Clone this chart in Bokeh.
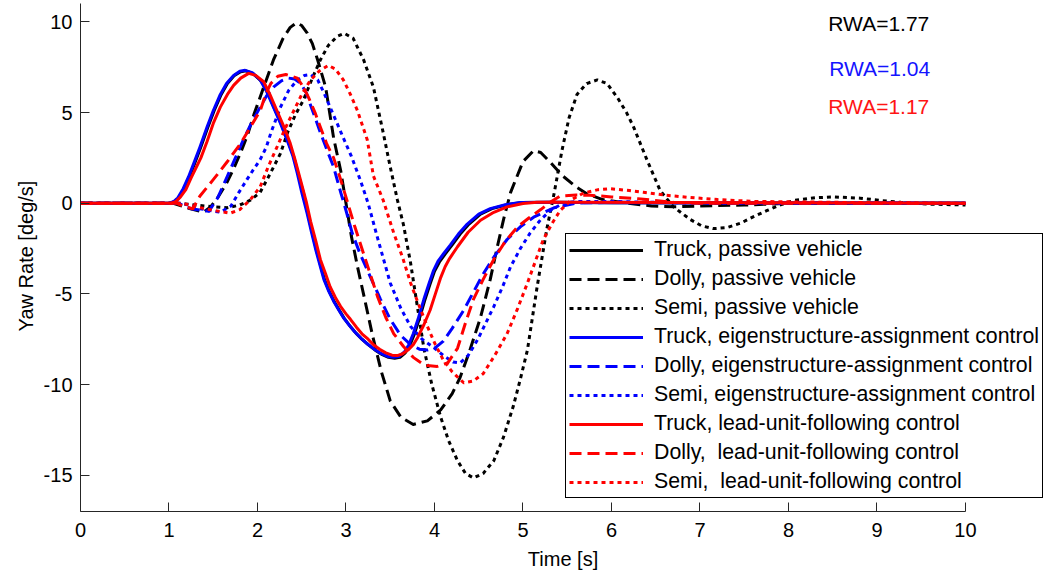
from bokeh.plotting import figure
from bokeh.models import Range1d, FixedTicker, Label
from bokeh.embed import file_html
from bokeh.resources import INLINE

# ---------------- data ----------------
x_ticks = [0, 1, 2, 3, 4, 5, 6, 7, 8, 9, 10]
y_ticks = [-15, -10, -5, 0, 5, 10]

# Truck, passive vehicle
t_truck_pas = [0, 1.01, 1.06, 1.11, 1.17, 1.23, 1.29, 1.36, 1.44, 1.51, 1.59, 1.66, 1.74, 1.81, 1.87, 1.95, 2.04, 2.11, 2.19, 2.27, 2.35, 2.41, 2.46, 2.52, 2.57, 2.62, 2.67, 2.72, 2.76, 2.81, 2.87, 2.93, 2.98, 3.05, 3.11, 3.18, 3.25, 3.33, 3.41, 3.48, 3.55, 3.61, 3.67, 3.72, 3.77, 3.83, 3.89, 3.95, 4.0, 4.06, 4.12, 4.2, 4.29, 4.39, 4.52, 4.65, 4.82, 4.99, 5.3, 6.0, 10]
v_truck_pas = [0, 0, 0.08, 0.3, 0.8, 1.45, 2.2, 3.1, 4.2, 5.1, 6.0, 6.6, 7.05, 7.25, 7.3, 7.15, 6.75, 6.15, 5.25, 4.35, 3.35, 2.55, 1.6, 0.55, -0.6, -1.65, -2.65, -3.55, -4.25, -4.85, -5.45, -5.95, -6.35, -6.8, -7.15, -7.5, -7.8, -8.1, -8.35, -8.5, -8.55, -8.5, -8.25, -7.85, -7.25, -6.35, -5.35, -4.45, -3.75, -3.2, -2.8, -2.3, -1.7, -1.15, -0.6, -0.3, -0.08, 0.04, 0.05, 0.02, 0]

# Dolly, passive vehicle
t_dolly_pas = [0, 1.05, 1.2, 1.39, 1.47, 1.55, 1.65, 1.73, 1.81, 1.89, 1.96, 2.07, 2.18, 2.29, 2.37, 2.44, 2.5, 2.56, 2.62, 2.68, 2.77, 2.86, 2.94, 3.0, 3.06, 3.13, 3.22, 3.3, 3.4, 3.5, 3.62, 3.76, 3.92, 4.07, 4.2, 4.29, 4.4, 4.52, 4.63, 4.71, 4.78, 4.86, 5.0, 5.12, 5.2, 5.3, 5.45, 5.6, 5.73, 5.9, 6.18, 6.45, 6.7, 7.0, 7.5, 8.0, 10]
v_dolly_pas = [0, 0, -0.25, -0.5, -0.2, 0.3, 1.1, 1.9, 2.8, 3.8, 4.9, 6.4, 7.9, 9.1, 9.7, 9.95, 9.8, 9.4, 8.8, 7.9, 6.4, 3.6, 1.8, 0.0, -1.8, -3.5, -5.5, -7.3, -9.3, -10.9, -11.8, -12.2, -12.0, -11.4, -10.5, -9.6, -8.1, -6.3, -4.2, -2.4, -0.9, 0.6, 2.3, 2.9, 2.8, 2.3, 1.5, 0.9, 0.5, 0.2, 0.0, -0.15, -0.2, -0.15, -0.1, 0.0, 0]

# Semi, passive vehicle
t_semi_pas = [0, 1.1, 1.3, 1.5, 1.66, 1.8, 1.92, 2.03, 2.14, 2.26, 2.34, 2.43, 2.52, 2.62, 2.71, 2.8, 2.9, 2.98, 3.08, 3.2, 3.31, 3.42, 3.5, 3.58, 3.65, 3.73, 3.8, 3.88, 3.97, 4.07, 4.16, 4.26, 4.35, 4.44, 4.55, 4.67, 4.78, 4.89, 4.97, 5.05, 5.16, 5.27, 5.35, 5.44, 5.52, 5.61, 5.72, 5.84, 5.95, 6.07, 6.17, 6.25, 6.4, 6.55, 6.7, 6.89, 7.02, 7.15, 7.3, 7.46, 7.6, 7.76, 7.9, 8.06, 8.3, 8.51, 8.81, 9.05, 9.27, 9.6, 10]
v_semi_pas = [0, 0, -0.1, -0.2, -0.25, -0.1, 0.17, 0.6, 1.6, 2.75, 3.9, 4.9, 5.7, 6.9, 7.9, 8.7, 9.2, 9.37, 9.1, 7.9, 6.4, 3.9, 2.0, 0.2, -1.2, -3.3, -5.5, -8.0, -10.0, -11.8, -13.1, -14.2, -14.9, -15.15, -14.9, -14.2, -12.9, -11.2, -9.7, -8.1, -4.6, -1.4, 0.5, 2.9, 4.7, 6.0, 6.6, 6.8, 6.6, 5.8, 5.0, 4.2, 2.4, 0.7, -0.2, -0.9, -1.25, -1.4, -1.35, -1.1, -0.75, -0.4, -0.1, 0.15, 0.3, 0.35, 0.28, 0.15, 0.05, -0.05, -0.1]

# Truck, eigenstructure-assignment control
t_truck_eig = [0, 1.0, 1.05, 1.1, 1.16, 1.22, 1.28, 1.35, 1.43, 1.5, 1.58, 1.65, 1.73, 1.8, 1.86, 1.94, 2.03, 2.1, 2.18, 2.26, 2.34, 2.4, 2.45, 2.5, 2.56, 2.61, 2.66, 2.71, 2.75, 2.8, 2.86, 2.92, 2.97, 3.04, 3.1, 3.17, 3.24, 3.32, 3.4, 3.47, 3.54, 3.6, 3.66, 3.71, 3.76, 3.82, 3.88, 3.94, 3.99, 4.04, 4.1, 4.18, 4.27, 4.37, 4.5, 4.63, 4.8, 4.97, 5.3, 6.0, 10]
v_truck_eig = [0, 0, 0.08, 0.3, 0.8, 1.45, 2.2, 3.1, 4.2, 5.1, 6.0, 6.6, 7.05, 7.28, 7.33, 7.2, 6.8, 6.2, 5.3, 4.4, 3.4, 2.6, 1.65, 0.6, -0.55, -1.6, -2.6, -3.5, -4.2, -4.8, -5.4, -5.9, -6.3, -6.75, -7.1, -7.45, -7.75, -8.05, -8.3, -8.45, -8.5, -8.45, -8.2, -7.8, -7.2, -6.3, -5.3, -4.4, -3.7, -3.2, -2.8, -2.3, -1.7, -1.15, -0.6, -0.3, -0.08, 0.04, 0.05, 0.02, 0]

# Dolly, eigenstructure-assignment control
t_dolly_eig = [0, 1.1, 1.25, 1.45, 1.55, 1.66, 1.75, 1.84, 1.94, 2.03, 2.1, 2.18, 2.27, 2.35, 2.42, 2.49, 2.55, 2.6, 2.66, 2.71, 2.78, 2.86, 2.94, 3.0, 3.07, 3.16, 3.27, 3.39, 3.5, 3.62, 3.73, 3.83, 3.92, 4.0, 4.1, 4.2, 4.33, 4.44, 4.55, 4.68, 4.82, 4.97, 5.12, 5.35, 5.6, 6.0, 10]
v_dolly_eig = [0, 0, -0.3, -0.45, 0.3, 1.5, 2.5, 3.5, 4.5, 5.3, 5.9, 6.4, 6.75, 6.9, 6.85, 6.6, 6.1, 5.4, 4.6, 3.9, 3.0, 2.0, 0.6, -0.4, -1.65, -2.8, -4.0, -5.3, -6.4, -7.3, -7.8, -8.05, -8.1, -8.0, -7.6, -6.9, -5.9, -4.9, -3.9, -2.9, -2.0, -1.3, -0.77, -0.25, 0.0, 0.05, 0]

# Semi, eigenstructure-assignment control
t_semi_eig = [0, 1.15, 1.35, 1.58, 1.7, 1.79, 1.88, 1.96, 2.03, 2.1, 2.15, 2.26, 2.35, 2.45, 2.53, 2.6, 2.68, 2.75, 2.82, 2.9, 2.97, 3.06, 3.16, 3.25, 3.35, 3.5, 3.62, 3.73, 3.86, 3.99, 4.1, 4.21, 4.29, 4.38, 4.49, 4.58, 4.67, 4.77, 4.86, 4.97, 5.08, 5.2, 5.31, 5.45, 5.6, 6.0, 7.0, 10]
v_semi_eig = [0, 0, -0.3, -0.5, -0.15, 0.6, 1.3, 1.9, 2.4, 3.1, 3.86, 5.3, 6.2, 6.8, 7.05, 7.1, 6.8, 6.1, 5.3, 4.4, 3.6, 2.6, 1.3, 0.0, -1.8, -4.4, -5.8, -6.8, -7.5, -7.95, -8.4, -8.75, -8.8, -8.4, -7.5, -6.6, -5.7, -4.6, -3.5, -2.5, -1.65, -0.9, -0.4, 0.0, 0.1, 0.1, 0.0, 0]

# Truck, lead-unit-following control
t_truck_luf = [0, 1.03, 1.08, 1.13, 1.19, 1.25, 1.3, 1.36, 1.43, 1.5, 1.58, 1.66, 1.73, 1.81, 1.9, 1.98, 2.07, 2.14, 2.22, 2.3, 2.37, 2.43, 2.49, 2.55, 2.6, 2.66, 2.71, 2.77, 2.82, 2.88, 2.94, 3.0, 3.05, 3.12, 3.18, 3.25, 3.31, 3.38, 3.45, 3.52, 3.58, 3.64, 3.7, 3.76, 3.81, 3.88, 3.95, 4.01, 4.07, 4.12, 4.17, 4.26, 4.38, 4.52, 4.67, 4.82, 5.0, 5.16, 5.6, 10]
v_truck_luf = [0, 0, 0.1, 0.35, 0.75, 1.4, 1.9, 2.5, 3.4, 4.4, 5.3, 6.0, 6.5, 6.9, 7.16, 7.05, 6.7, 6.0, 5.1, 4.2, 3.3, 2.3, 1.2, 0.1, -1.0, -2.1, -3.1, -3.9, -4.6, -5.2, -5.7, -6.1, -6.4, -6.85, -7.2, -7.5, -7.8, -8.05, -8.25, -8.38, -8.4, -8.3, -8.1, -7.8, -7.4, -6.7, -5.9, -5.0, -4.1, -3.5, -3.05, -2.4, -1.6, -0.94, -0.5, -0.2, -0.02, 0.05, 0.05, 0]

# Dolly, lead-unit-following control
t_dolly_luf = [0, 1.08, 1.18, 1.27, 1.35, 1.5, 1.66, 1.81, 1.92, 2.03, 2.1, 2.15, 2.23, 2.32, 2.45, 2.52, 2.58, 2.65, 2.71, 2.78, 2.86, 2.94, 3.01, 3.1, 3.2, 3.3, 3.36, 3.45, 3.54, 3.65, 3.76, 3.85, 3.92, 4.03, 4.15, 4.26, 4.35, 4.44, 4.55, 4.67, 4.8, 4.94, 5.07, 5.2, 5.32, 5.42, 5.6, 5.76, 6.0, 6.3, 6.7, 7.0, 10]
v_dolly_luf = [0, 0, -0.2, -0.3, 0.4, 1.3, 2.3, 3.3, 4.2, 5.1, 6.1, 6.6, 7.0, 7.1, 6.9, 6.4, 5.8, 5.0, 4.2, 3.3, 2.5, 1.3, 0.17, -1.3, -2.8, -4.3, -5.2, -6.3, -7.2, -7.9, -8.5, -8.8, -8.95, -9.0, -8.8, -8.0, -6.6, -5.3, -4.2, -3.1, -2.1, -1.3, -0.8, -0.35, 0.1, 0.4, 0.45, 0.44, 0.35, 0.25, 0.05, 0.0, 0]

# Semi, lead-unit-following control
t_semi_luf = [0, 1.15, 1.4, 1.69, 1.8, 1.92, 2.03, 2.12, 2.22, 2.32, 2.41, 2.5, 2.6, 2.7, 2.8, 2.88, 2.97, 3.05, 3.13, 3.24, 3.31, 3.42, 3.54, 3.64, 3.73, 3.83, 3.92, 4.01, 4.1, 4.2, 4.33, 4.44, 4.55, 4.68, 4.82, 4.94, 5.05, 5.14, 5.23, 5.33, 5.42, 5.55, 5.68, 5.85, 5.99, 6.2, 6.36, 6.6, 6.86, 7.2, 7.6, 8.5, 10]
v_semi_luf = [0, 0, -0.3, -0.55, -0.35, 0.2, 0.9, 2.0, 3.1, 4.2, 5.1, 6.0, 6.8, 7.3, 7.6, 7.4, 6.8, 6.0, 5.1, 3.5, 1.5, 0.17, -1.65, -3.0, -4.4, -5.7, -6.8, -7.8, -8.65, -9.3, -9.9, -9.8, -9.4, -8.4, -7.2, -5.8, -4.4, -3.2, -2.0, -1.1, -0.4, 0.2, 0.55, 0.75, 0.8, 0.7, 0.6, 0.45, 0.33, 0.2, 0.1, 0.05, 0]

series = [
    ("Truck, passive vehicle", t_truck_pas, v_truck_pas, "#000000", "solid"),
    ("Dolly, passive vehicle", t_dolly_pas, v_dolly_pas, "#000000", "dashed"),
    ("Semi, passive vehicle", t_semi_pas, v_semi_pas, "#000000", "dotted"),
    ("Truck, eigenstructure-assignment control", t_truck_eig, v_truck_eig, "#0000ff", "solid"),
    ("Dolly, eigenstructure-assignment control", t_dolly_eig, v_dolly_eig, "#0000ff", "dashed"),
    ("Semi, eigenstructure-assignment control", t_semi_eig, v_semi_eig, "#0000ff", "dotted"),
    ("Truck, lead-unit-following control", t_truck_luf, v_truck_luf, "#ff0000", "solid"),
    ("Dolly,  lead-unit-following control", t_dolly_luf, v_dolly_luf, "#ff0000", "dashed"),
    ("Semi,  lead-unit-following control", t_semi_luf, v_semi_luf, "#ff0000", "dotted"),
]

rwa_labels = ["RWA=1.77", "RWA=1.04", "RWA=1.17"]
rwa_colors = ["#000000", "#1414ff", "#ff1414"]

# ---------------- figure ----------------
FONT = "Liberation Sans"
p = figure(
    width=1045, height=572,
    x_range=Range1d(0, 10.904), y_range=Range1d(-17, 11.18),
    output_backend="svg", toolbar_location=None,
    min_border_left=80, min_border_right=0, min_border_top=0, min_border_bottom=61,
)
p.outline_line_color = None
p.xgrid.visible = False
p.ygrid.visible = False
p.background_fill_color = "white"
p.border_fill_color = "white"

dash_map = {"solid": "solid", "dashed": "12 6", "dotted": "4 4"}
for label, t, v, color, style in series:
    p.line(t, v, line_color=color, line_width=3, line_dash=dash_map[style],
           line_cap="butt", line_join="round", legend_label=label)

for ax in (p.xaxis[0], p.yaxis[0]):
    ax.axis_line_color = "#262626"
    ax.major_tick_line_color = "#262626"
    ax.major_tick_in = 9
    ax.major_tick_out = 0
    ax.minor_tick_line_color = None
    ax.major_label_text_font = FONT
    ax.major_label_text_font_size = "20px"
    ax.major_label_text_color = "#000000"
    ax.axis_label_text_font = FONT
    ax.axis_label_text_font_size = "20px"
    ax.axis_label_text_font_style = "normal"
    ax.axis_label_text_color = "#000000"

p.xaxis.ticker = FixedTicker(ticks=x_ticks)
p.yaxis.ticker = FixedTicker(ticks=y_ticks)
p.xaxis.major_label_overrides = {t: str(t) for t in x_ticks}
p.yaxis.major_label_overrides = {t: str(t) for t in y_ticks}
p.xaxis.bounds = (0, 10)
p.yaxis.bounds = (-17, 11)
p.xaxis.axis_label = "Time [s]"
p.yaxis.axis_label = "Yaw Rate [deg/s]"
p.xaxis.major_label_standoff = 11
p.yaxis.major_label_standoff = 8
p.xaxis.axis_label_standoff = 8
p.yaxis.axis_label_standoff = 4

lg = p.legend[0]
lg.location = (485, 13)
lg.glyph_width = 74
lg.glyph_height = 20
lg.label_height = 20
lg.spacing = 4
lg.padding = 3
lg.margin = 0
lg.label_standoff = 11
lg.label_text_font = FONT
lg.label_text_font_size = "21.3px"
lg.label_text_color = "#000000"
lg.border_line_color = "#000000"
lg.border_line_width = 1
lg.border_line_alpha = 1.0
lg.background_fill_alpha = 1.0

rwa_x = [8.45, 8.46, 8.45]
rwa_y = [9.92, 7.44, 5.34]
for txt, col, xx, yy in zip(rwa_labels, rwa_colors, rwa_x, rwa_y):
    p.add_layout(Label(x=xx, y=yy, text=txt, text_color=col, text_font=FONT,
                       text_font_size="21px", text_baseline="middle", text_align="left"))

open("out.html", "w").write(file_html(p, INLINE))
